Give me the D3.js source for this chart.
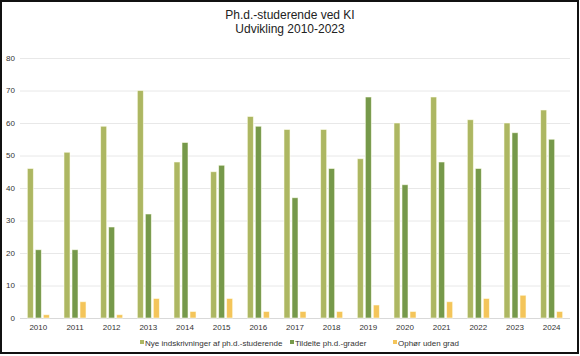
<!DOCTYPE html>
<html><head><meta charset="utf-8">
<script src="https://cdn.jsdelivr.net/npm/d3@7"></script>
<style>body{margin:0;background:#fff}svg{display:block;font-family:"Liberation Sans",Arial,sans-serif}</style>
</head><body><svg id="c" width="580" height="356"></svg>
<script>
const years = ["2010","2011","2012","2013","2014","2015","2016","2017","2018","2019","2020","2021","2022","2023","2024"];
const seriesNames = ["Nye indskrivninger af ph.d.-studerende","Tildelte ph.d.-grader","Ophør uden grad"];
const nye = [46,51,59,70,48,45,62,58,58,49,60,68,61,60,64];
const tildelte = [21,21,28,32,54,47,59,37,46,68,41,48,46,57,55];
const ophoer = [1,5,1,6,2,6,2,2,2,4,2,5,6,7,2];
const yTicks = [0,10,20,30,40,50,60,70,80];
const colors = ["#adb762","#76994a","#f4c55a"];
const titleLines = ["Ph.d.-studerende ved KI","Udvikling 2010-2023"];

(function(){
const svg = d3.select("#c");
const values = [nye, tildelte, ophoer];
const pl = 20, pr = 570, pt = 58, pb = 318;

const x = d3.scaleBand().domain(years).range([pl, pr]).paddingInner(0.4).paddingOuter(0.2);
const xs = d3.scaleBand().domain(d3.range(3)).range([0, x.bandwidth()]).paddingInner(0.25);
const y = d3.scaleLinear().domain([0, 80]).range([pb, pt]);

svg.append("g").selectAll("line").data(yTicks).join("line")
  .attr("x1", pl).attr("x2", pr)
  .attr("y1", d => y(d) + 0.5).attr("y2", d => y(d) + 0.5)
  .attr("stroke", d => d === 0 ? "#d9d9d9" : "#e8e8e8").attr("stroke-width", 1);

svg.append("g").selectAll("text").data(yTicks).join("text")
  .attr("x", 15).attr("y", d => y(d)).attr("dy", "0.35em")
  .attr("text-anchor", "end").attr("font-size", 8).attr("fill", "#333").text(d => d);

const g = svg.append("g");
values.forEach((arr, si) => {
  g.append("g").selectAll("rect").data(arr).join("rect")
    .attr("x", (d, i) => x(years[i]) + xs(si))
    .attr("y", d => y(d))
    .attr("width", xs.bandwidth())
    .attr("height", d => y(0) - y(d))
    .attr("fill", colors[si])
    .attr("stroke", "rgba(255,255,240,0.7)").attr("stroke-width", 0.8);
});

svg.append("g").selectAll("text").data(years).join("text")
  .attr("x", d => x(d) + x.bandwidth() / 2).attr("y", 330)
  .attr("text-anchor", "middle").attr("font-size", 8).attr("fill", "#333").text(d => d);

const legX = [140, 290, 393];
const lg = svg.append("g");
seriesNames.forEach((n, i) => {
  lg.append("rect").attr("x", legX[i]).attr("y", 340).attr("width", 4).attr("height", 4).attr("fill", colors[i]);
  lg.append("text").attr("x", legX[i] + 5).attr("y", 345.5).attr("font-size", 8).attr("fill", "#333").text(n);
});

svg.append("g").selectAll("text").data(titleLines).join("text")
  .attr("x", 290).attr("y", (d, i) => 19 + i * 14)
  .attr("text-anchor", "middle").attr("font-size", 12).attr("fill", "#222").text(d => d);

svg.append("rect").attr("x", 1).attr("y", 1).attr("width", 577).attr("height", 352)
  .attr("fill", "none").attr("stroke", "#111").attr("stroke-width", 2);
})();
</script></body></html>
